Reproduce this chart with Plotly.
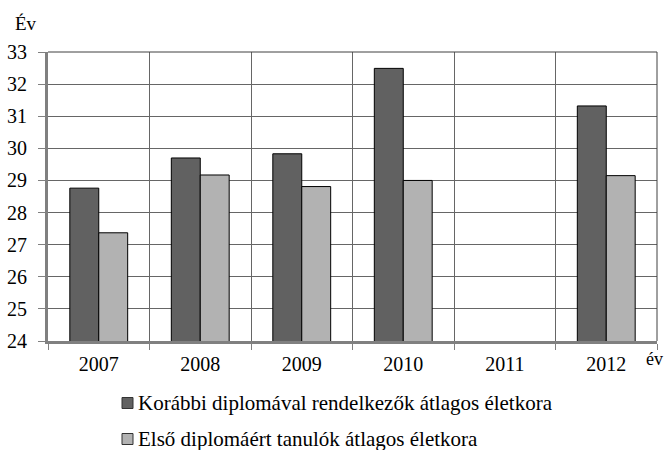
import plotly.graph_objects as go

years = ["2007", "2008", "2009", "2010", "2011", "2012"]
korabbi = [28.76, 29.70, 29.83, 32.49, None, 31.32]
elso = [27.37, 29.17, 28.81, 29.00, None, 29.15]
name_korabbi = "Korábbi diplomával rendelkezők átlagos életkora"
name_elso = "Első diplomáért tanulók átlagos életkora"
y_ticks = list(range(24, 34))

FONT = "Liberation Serif"
DARK = "#616161"
LIGHT = "#b2b2b2"

W, H = 665, 450
L, R, T, B = 48, 8, 52, 109
PW, PH = W - L - R, H - T - B


def px(fx):
    return (fx - L) / PW


def py(fy):
    return (H - B - fy) / PH


fig = go.Figure()
fig.add_trace(go.Bar(x=years, y=korabbi, name=name_korabbi, showlegend=False,
                     marker=dict(color=DARK, line=dict(color="#000000", width=1))))
fig.add_trace(go.Bar(x=years, y=elso, name=name_elso, showlegend=False,
                     marker=dict(color=LIGHT, line=dict(color="#000000", width=1))))

fig.update_layout(
    width=W, height=H,
    margin=dict(l=L, r=R, t=T, b=B, pad=0),
    paper_bgcolor="white", plot_bgcolor="white",
    font=dict(family=FONT, size=20, color="#000000"),
    barmode="group", bargap=0.43, bargroupgap=0,
    showlegend=False,
    xaxis=dict(type="category", tickson="boundaries", ticks="outside", ticklen=6,
               tickcolor="#808080", showgrid=True, gridcolor="#666666", gridwidth=1,
               showline=True, linecolor="#808080", linewidth=3, automargin=False,
               ticklabelstandoff=3, tickfont=dict(family=FONT, size=20)),
    yaxis=dict(range=[24, 33], tickvals=y_ticks, ticks="outside", ticklen=7,
               tickcolor="#808080", showgrid=True, gridcolor="#666666", gridwidth=1,
               showline=True, linecolor="#808080", linewidth=3, zeroline=False,
               automargin=False, ticklabelstandoff=7,
               tickfont=dict(family=FONT, size=20)),
)

# top and right frame lines
fig.add_shape(type="line", xref="paper", yref="paper", x0=0, x1=1, y0=1, y1=1,
              line=dict(color="#404040", width=1))
fig.add_shape(type="line", xref="paper", yref="paper", x0=1, x1=1, y0=0, y1=1,
              line=dict(color="#404040", width=1))

fig.add_annotation(text="Év", xref="paper", yref="paper", x=px(26), y=py(23),
                   xanchor="center", yanchor="middle", showarrow=False,
                   font=dict(family=FONT, size=19))
fig.add_annotation(text="év", xref="paper", yref="paper", x=px(654), y=py(359),
                   xanchor="center", yanchor="middle", showarrow=False,
                   font=dict(family=FONT, size=18))

# custom legend
for name, color, cy in [(name_korabbi, DARK, 403), (name_elso, LIGHT, 439)]:
    fig.add_shape(type="rect", xref="paper", yref="paper",
                  x0=px(122), x1=px(133), y0=py(cy - 5.5), y1=py(cy + 5.5),
                  fillcolor=color, line=dict(color="#333333", width=1))
    fig.add_annotation(text=name, xref="paper", yref="paper", x=px(136), y=py(cy),
                       xanchor="left", yanchor="middle", showarrow=False,
                       font=dict(family=FONT, size=21))

fig.write_html("out.html", config={"displayModeBar": False},
               post_script="document.body.style.margin='0';")
